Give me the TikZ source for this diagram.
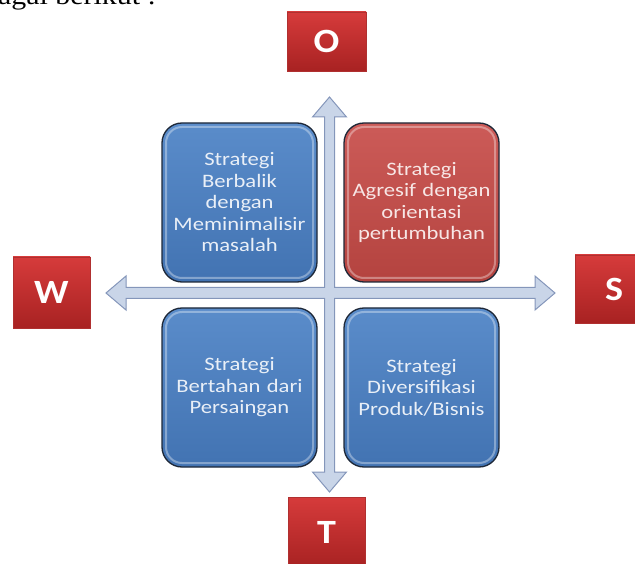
\documentclass[tikz,border=0pt]{standalone}
\usepackage{fontspec}
\setmainfont{Liberation Serif}
\newfontfamily\introfont[FakeStretch=1.15]{Liberation Serif}
\newfontfamily\boxfont[FakeStretch=1.19]{Carlito}
\newfontfamily\letterfont[FakeStretch=1.12]{Carlito}
\usetikzlibrary{calc}
\definecolor{boxline}{HTML}{1E2838}
\definecolor{blueTop}{HTML}{5A8CCA}
\definecolor{blueBot}{HTML}{4273B2}
\definecolor{redTop}{HTML}{CC5B58}
\definecolor{redBot}{HTML}{B4433F}
\definecolor{ltrTop}{HTML}{D63B3B}
\definecolor{ltrBot}{HTML}{A82222}
\definecolor{ltrLine}{HTML}{B03030}
\definecolor{arrFill}{HTML}{C9D5E8}
\definecolor{arrLine}{HTML}{8496BA}
\definecolor{blueText}{HTML}{E9EFF7}
\definecolor{redText}{HTML}{F7E6E5}
\begin{document}
\begin{tikzpicture}[x=1pt,y=-1pt,
  quad/.style={rounded corners=20pt, draw=boxline, line width=1.3pt,
    minimum width=155pt, minimum height=159pt, text width=148pt, inner sep=0pt,
    align=center, font=\boxfont\fontsize{19}{21.5}\selectfont},
  bluequad/.style={quad, top color=blueTop, bottom color=blueBot, text=blueText},
  redquad/.style={quad, top color=redTop, bottom color=redBot, text=redText},
  gloss/.style={rounded corners=16pt, draw=white, draw opacity=0.35, line width=2pt,
    minimum width=147pt, minimum height=151pt, inner sep=0pt},
  letterbox/.style={top color=ltrTop, bottom color=ltrBot, draw=ltrLine, line width=0.6pt,
    inner sep=0pt, text=white, font=\letterfont\bfseries\fontsize{34}{34}\selectfont},
  axisshape/.style={fill=arrFill, draw=arrLine, line width=1pt, line join=miter}
]
\useasboundingbox (0,0) rectangle (635,564);
\clip (0,0) rectangle (635,564);

% intro text (cut at top, as in the reference)
\node[anchor=base west, inner sep=0pt, font=\introfont\fontsize{26}{26}\selectfont] (intro) at (-2,5) {agai berikut :};

% axes: one cross-shaped block arrow with four heads
\coordinate (ctr) at (329.5,293);
\coordinate (ntip) at (329.5,97);
\coordinate (stip) at (329.5,492);
\coordinate (wtip) at (106,293);
\coordinate (etip) at (555,293);
\draw[axisshape]
  (ntip) -- ($(ntip)+(17,20)$) -- ($(ntip)+(5,20)$)
  -- ($(ctr)+(5,-5.5)$) -- ($(etip)+(-20,-5.5)$) -- ($(etip)+(-20,-17)$)
  -- (etip) -- ($(etip)+(-20,17)$) -- ($(etip)+(-20,5.5)$)
  -- ($(ctr)+(5,5.5)$) -- ($(stip)+(5,-20)$) -- ($(stip)+(17,-20)$)
  -- (stip) -- ($(stip)+(-17,-20)$) -- ($(stip)+(-5,-20)$)
  -- ($(ctr)+(-5,5.5)$) -- ($(wtip)+(20,5.5)$) -- ($(wtip)+(20,17)$)
  -- (wtip) -- ($(wtip)+(20,-17)$) -- ($(wtip)+(20,-5.5)$)
  -- ($(ctr)+(-5,-5.5)$) -- ($(ntip)+(-5,20)$) -- ($(ntip)+(-17,20)$)
  -- cycle;

% quadrants
\node[bluequad] (wo) at (239.5,202.5) {Strategi\\Berbalik\\dengan\\Meminimalisir\\masalah};
\node[redquad] (so) at (421.5,202.5) {Strategi\\Agresif dengan\\orientasi\\pertumbuhan};
\node[bluequad] (wt) at (239.5,387.5) {Strategi\\Bertahan dari\\Persaingan};
\node[bluequad] (st) at (421.5,387.5) {Strategi\\Diversifikasi\\Produk/Bisnis};
\node[gloss] (wog) at (wo) {};
\node[gloss] (sog) at (so) {};
\node[gloss] (wtg) at (wt) {};
\node[gloss] (stg) at (st) {};

% SWOT letters
\node[letterbox, minimum width=79pt, minimum height=59pt] (O) at (326.5,41.5) {O};
\node[letterbox, minimum width=77pt, minimum height=71pt] (W) at (51.5,292.5) {W};
\node[letterbox, minimum width=78pt, minimum height=68pt] (S) at (614,289) {S};
\node[letterbox, minimum width=77pt, minimum height=70pt] (T) at (326.5,532) {T};
\end{tikzpicture}
\end{document}
